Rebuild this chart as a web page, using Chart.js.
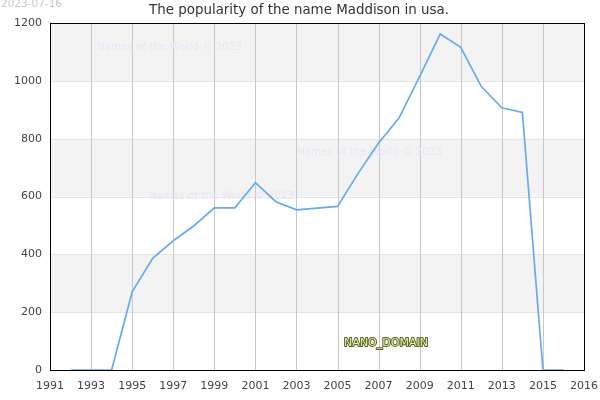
<!DOCTYPE html>
<html>
<head>
<meta charset="utf-8">
<script src="https://cdn.jsdelivr.net/npm/chart.js@4/dist/chart.umd.min.js"></script>
<style>
  html, body { margin: 0; padding: 0; background: #fff; }
  #wrap { width: 600px; height: 400px; }
</style>
</head>
<body>
<div id="wrap"><canvas id="myChart" width="600" height="400"></canvas></div>
<script>
// data
const years = [1992, 1993, 1994, 1995, 1996, 1997, 1998, 1999, 2000, 2001, 2002, 2003, 2004,
  2005, 2006, 2007, 2008, 2009, 2010, 2011, 2012, 2013, 2014, 2015, 2016];
const births = [0, 0, 0, 270, 386, 447, 498, 561, 561, 648, 582, 554, 560,
  566, 680, 785, 872, 1015, 1162, 1116, 980, 907, 891, 0, 0];
// the last tick sits one step (two years) past 2015 but is labelled 2016
const xTicks = [1991, 1993, 1995, 1997, 1999, 2001, 2003, 2005, 2007, 2009, 2011, 2013, 2015, 2017];
const xTickLabels = ["1991", "1993", "1995", "1997", "1999", "2001", "2003", "2005", "2007",
  "2009", "2011", "2013", "2015", "2016"];
const yTicks = [0, 200, 400, 600, 800, 1000, 1200];
const bands = [[200, 400], [600, 800], [1000, 1200]];
const titleText = "The popularity of the name Maddison in usa.";
const dateText = "2023-07-16";
const watermark = "Names of the World © 2023";

const points = years.map((y, i) => ({ x: y, y: births[i] }));

// grey bands, frame, title and the other loose texts
const decorPlugin = {
  id: "decor",
  beforeDatasetsDraw(chart) {
    const { ctx, chartArea: a, scales } = chart;
    ctx.save();
    ctx.fillStyle = "#f3f3f3";
    bands.forEach(([lo, hi]) => {
      const y1 = scales.y.getPixelForValue(hi);
      const y2 = scales.y.getPixelForValue(lo);
      ctx.fillRect(a.left, y1, a.right - a.left, y2 - y1);
    });
    // horizontal lines at band edges
    ctx.strokeStyle = "#e4e4e4";
    ctx.lineWidth = 1;
    yTicks.forEach((v) => {
      const y = Math.round(scales.y.getPixelForValue(v)) + 0.5;
      ctx.beginPath();
      ctx.moveTo(a.left, y);
      ctx.lineTo(a.right, y);
      ctx.stroke();
    });
    // vertical grid over the bands
    ctx.strokeStyle = "#c8c8c8";
    scales.x.ticks.forEach((t) => {
      const x = Math.round(scales.x.getPixelForValue(t.value)) + 0.5;
      ctx.beginPath();
      ctx.moveTo(x, a.top);
      ctx.lineTo(x, a.bottom);
      ctx.stroke();
    });
    ctx.font = "10.3px 'DejaVu Sans'";
    ctx.fillStyle = "#e6e6f6";
    ctx.textBaseline = "middle";
    ctx.fillText(watermark, 97, 47);
    ctx.fillText(watermark, 297, 152);
    ctx.fillText(watermark, 149, 196);
    ctx.restore();
  },
  afterDraw(chart) {
    const { ctx, chartArea: a, scales } = chart;
    ctx.save();
    ctx.strokeStyle = "#000";
    ctx.lineWidth = 1;
    ctx.strokeRect(Math.round(a.left) + 0.5, Math.round(a.top) + 0.5,
      Math.round(a.right - a.left), Math.round(a.bottom - a.top));
    // y tick labels, placed from the y scale
    ctx.textBaseline = "middle";
    ctx.textAlign = "right";
    ctx.font = "11px 'DejaVu Sans'";
    ctx.fillStyle = "#444";
    scales.y.ticks.forEach((t) => {
      ctx.fillText(String(t.value), a.left - 8, scales.y.getPixelForValue(t.value));
    });
    ctx.textAlign = "center";
    ctx.font = "13.4px 'DejaVu Sans'";
    ctx.fillStyle = "#333";
    ctx.fillText(titleText, 299, 11);
    ctx.textAlign = "left";
    ctx.font = "10.5px 'DejaVu Sans'";
    ctx.fillStyle = "#c8c8c8";
    ctx.fillText(dateText, 1, 4);
    ctx.font = "11px 'DejaVu Sans'";
    ctx.textAlign = "center";
    ctx.lineJoin = "round";
    ctx.lineWidth = 2;
    ctx.strokeStyle = "#5a6320";
    ctx.strokeText("NANO_DOMAIN", 386, 343);
    ctx.fillStyle = "#e4ecb0";
    ctx.fillText("NANO_DOMAIN", 386, 343);
    ctx.restore();
  },
};

const ctx = document.getElementById("myChart").getContext("2d");
const myChart = new Chart(ctx, {
  type: "line",
  data: {
    datasets: [
      {
        data: points,
        borderColor: "#66aaf0",
        borderWidth: 1.7,
        pointRadius: 0,
        tension: 0,
        fill: false,
        clip: false,
      },
    ],
  },
  options: {
    responsive: false,
    animation: false,
    layout: { padding: { top: 23, right: 15, left: 0, bottom: 0 } },
    plugins: { legend: { display: false }, title: { display: false }, tooltip: { enabled: false } },
    scales: {
      x: {
        type: "linear",
        min: 1991,
        max: 2017,
        afterBuildTicks(scale) { scale.ticks = xTicks.map((v) => ({ value: v })); },
        ticks: {
          autoSkip: false,
          maxRotation: 0,
          color: "#444",
          font: { family: "DejaVu Sans", size: 11 },
          padding: 2,
          callback: (v, i) => xTickLabels[i],
        },
        grid: { display: false },
        border: { display: false },
        afterFit(scale) { scale.height = 30; },
      },
      y: {
        min: 0,
        max: 1200,
        afterBuildTicks(scale) { scale.ticks = yTicks.map((v) => ({ value: v })); },
        ticks: { display: false },
        grid: { display: false, drawTicks: false },
        border: { display: false },
        afterFit(scale) { scale.width = 50; },
      },
    },
  },
  plugins: [decorPlugin],
});
</script>
</body>
</html>
